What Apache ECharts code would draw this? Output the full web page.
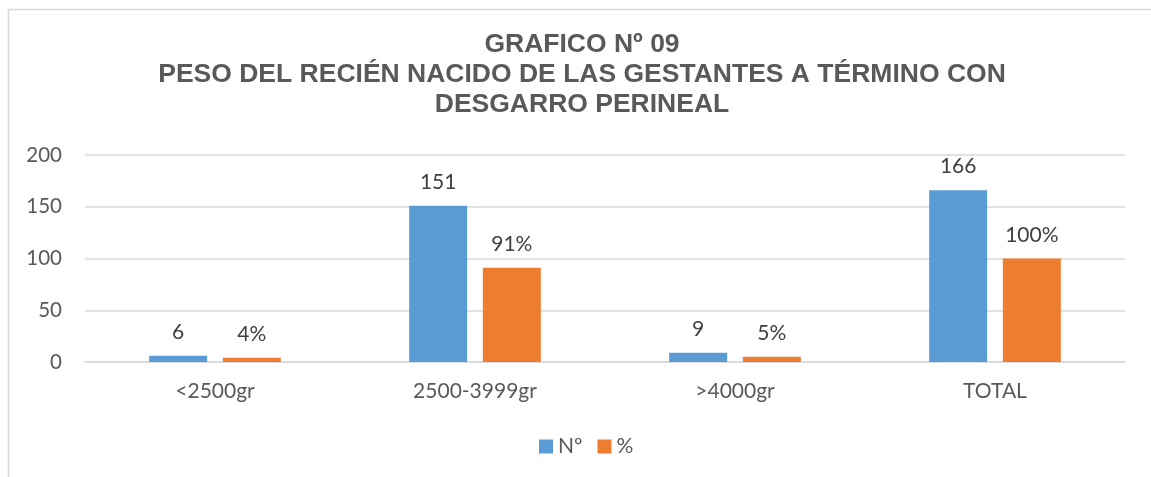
<!DOCTYPE html>
<html>
<head>
<meta charset="utf-8">
<script src="https://cdn.jsdelivr.net/npm/echarts@6/dist/echarts.min.js"></script>
<style>
  html, body { margin: 0; padding: 0; background: #fff; }
  #chart { width: 1151px; height: 477px; }
</style>
</head>
<body>
<div id="chart"></div>
<script>
var categories = ['<2500gr', '2500-3999gr', '>4000gr', 'TOTAL'];
var countValues = [6, 151, 9, 166];
var percentValues = [4, 91, 5, 100];
var yTicks = [0, 50, 100, 150, 200];
var titleText = 'GRAFICO Nº 09\nPESO DEL RECIÉN NACIDO DE LAS GESTANTES A TÉRMINO CON\nDESGARRO PERINEAL';

var labelFont = 'Lato, "Liberation Sans", sans-serif';

var chart = echarts.init(document.getElementById('chart'), null, { renderer: 'canvas' });

var option = {
  animation: false,
  graphic: [
    {
      type: 'rect',
      shape: { x: 8.5, y: 9.5, width: 1300, height: 600 },
      style: { fill: 'none', stroke: '#d9d9d9', lineWidth: 1.5 },
      silent: true,
      z: -10
    },
    {
      // chart title, three lines
      type: 'text',
      x: 582,
      y: 30,
      style: {
        text: titleText,
        align: 'center',
        verticalAlign: 'top',
        font: 'bold 26.5px "Liberation Sans", Arial, sans-serif',
        lineHeight: 30,
        fill: '#595959'
      },
      silent: true
    }
  ],
  legend: {
    data: ['Nº', '%'],
    left: 539,
    top: 436,
    padding: 0,
    itemWidth: 14,
    itemHeight: 14,
    itemGap: 15,
    icon: 'rect',
    textStyle: { fontFamily: labelFont, fontSize: 21, color: '#595959' }
  },
  grid: { left: 85, right: 26, top: 155, bottom: 115 },
  xAxis: {
    type: 'category',
    data: categories,
    axisLine: { lineStyle: { color: '#d9d9d9', width: 1.5 } },
    axisTick: { show: false },
    axisLabel: { fontFamily: labelFont, fontSize: 21, color: '#595959', margin: 19 }
  },
  yAxis: {
    type: 'value',
    min: yTicks[0],
    max: yTicks[yTicks.length - 1],
    interval: yTicks[1] - yTicks[0],
    axisLine: { show: false },
    axisTick: { show: false },
    splitLine: { lineStyle: { color: '#d9d9d9', width: 1.5 } },
    axisLabel: { fontFamily: labelFont, fontSize: 20.5, color: '#595959', margin: 23 }
  },
  series: [
    {
      name: 'Nº',
      type: 'bar',
      data: countValues,
      barWidth: 58,
      barGap: '27%',
      itemStyle: { color: '#5b9bd5' },
      label: {
        show: true,
        position: 'top',
        distance: 13,
        fontFamily: labelFont,
        fontSize: 21,
        color: '#404040'
      }
    },
    {
      name: '%',
      type: 'bar',
      data: percentValues,
      barWidth: 58,
      barGap: '27%',
      itemStyle: { color: '#ed7d31' },
      label: {
        show: true,
        position: 'top',
        distance: 13,
        formatter: '{c}%',
        fontFamily: labelFont,
        fontSize: 21,
        color: '#404040'
      }
    }
  ]
};

chart.setOption(option);
window.addEventListener('resize', chart.resize);
</script>
</body>
</html>
